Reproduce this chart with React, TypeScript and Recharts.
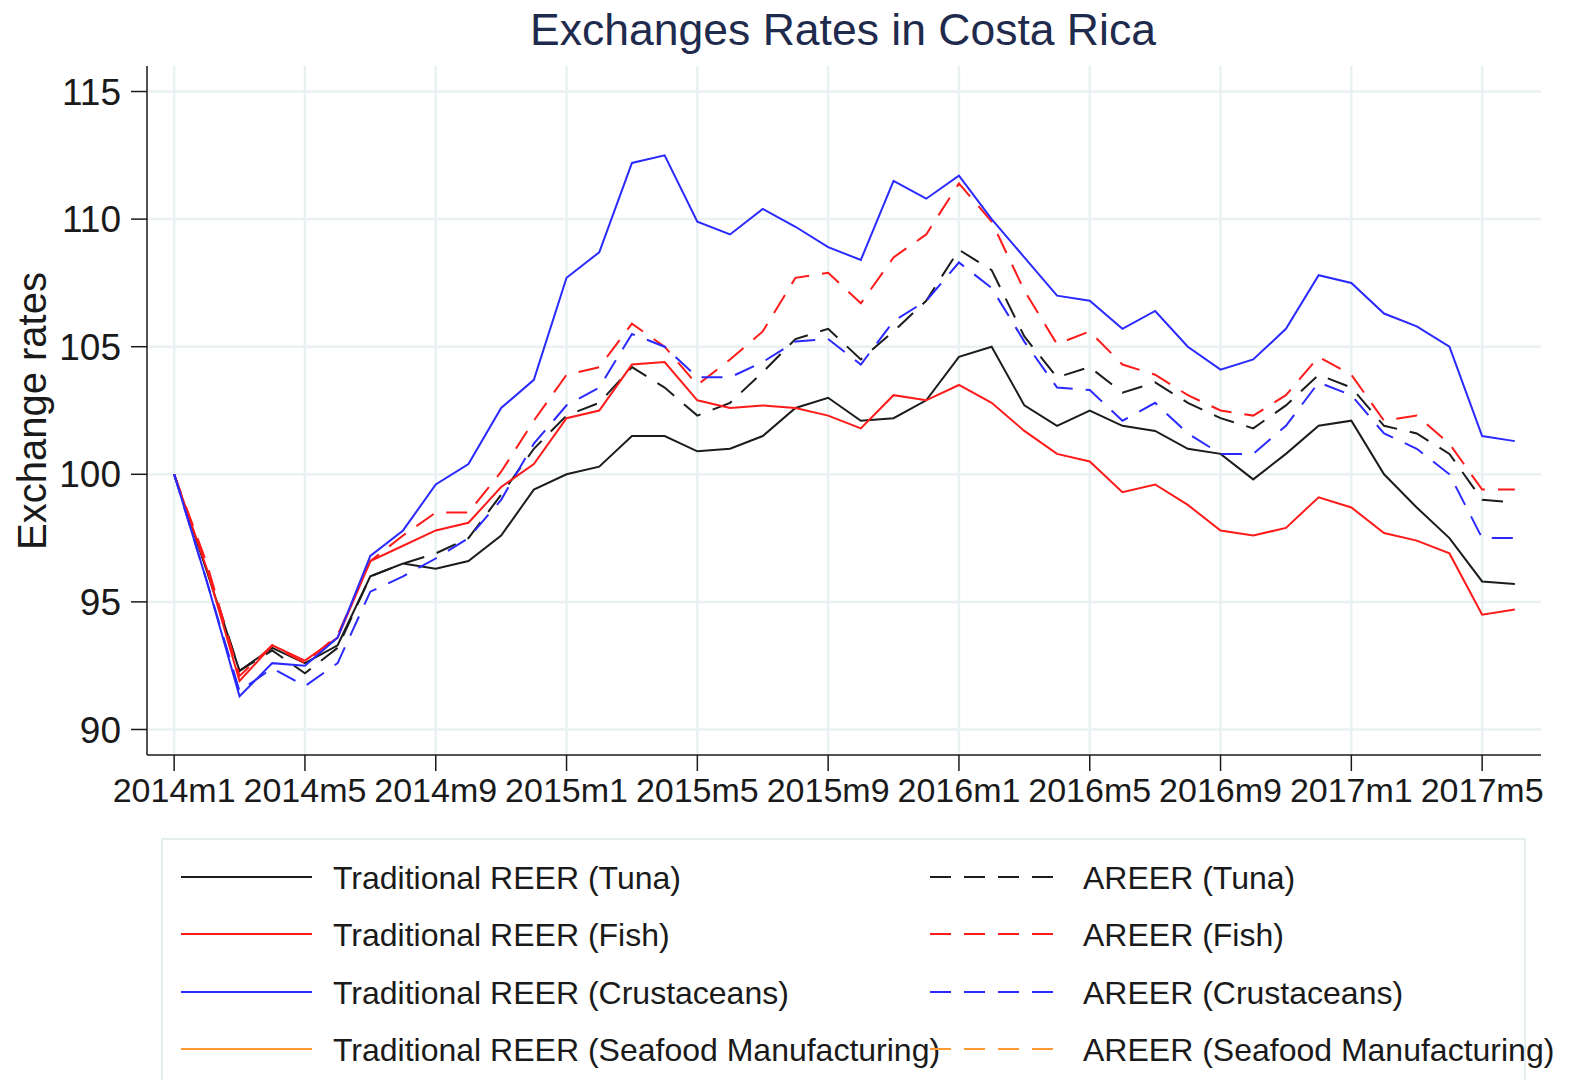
import React from 'react';
import { LineChart, Line, XAxis, YAxis, CartesianGrid, Legend } from 'recharts';

const monthLabels = [
  '2014m1', '2014m2', '2014m3', '2014m4', '2014m5', '2014m6', '2014m7', '2014m8', '2014m9', '2014m10', '2014m11', '2014m12',
  '2015m1', '2015m2', '2015m3', '2015m4', '2015m5', '2015m6', '2015m7', '2015m8', '2015m9', '2015m10', '2015m11', '2015m12',
  '2016m1', '2016m2', '2016m3', '2016m4', '2016m5', '2016m6', '2016m7', '2016m8', '2016m9', '2016m10', '2016m11', '2016m12',
  '2017m1', '2017m2', '2017m3', '2017m4', '2017m5', '2017m6',
];

const xTicks = [0, 4, 8, 12, 16, 20, 24, 28, 32, 36, 40];
const yTicks = [90, 95, 100, 105, 110, 115];

const tradTuna = [
  100, 96.2, 92.3, 93.2, 92.6, 93.3, 96.0, 96.5, 96.3, 96.6, 97.6, 99.4,
  100.0, 100.3, 101.5, 101.5, 100.9, 101.0, 101.5, 102.6, 103.0, 102.1, 102.2, 102.9,
  104.6, 105.0, 102.7, 101.9, 102.5, 101.9, 101.7, 101.0, 100.8, 99.8, 100.8, 101.9,
  102.1, 100.0, 98.7, 97.5, 95.8, 95.7,
];
const tradFish = [
  100, 96.3, 91.9, 93.3, 92.7, 93.6, 96.6, 97.2, 97.8, 98.1, 99.5, 100.4,
  102.2, 102.5, 104.3, 104.4, 102.9, 102.6, 102.7, 102.6, 102.3, 101.8, 103.1, 102.9,
  103.5, 102.8, 101.7, 100.8, 100.5, 99.3, 99.6, 98.8, 97.8, 97.6, 97.9, 99.1,
  98.7, 97.7, 97.4, 96.9, 94.5, 94.7,
];
const tradCrus = [
  100, 95.8, 91.3, 92.6, 92.5, 93.6, 96.8, 97.8, 99.6, 100.4, 102.6, 103.7,
  107.7, 108.7, 112.2, 112.5, 109.9, 109.4, 110.4, 109.7, 108.9, 108.4, 111.5, 110.8,
  111.7, 110.0, 108.5, 107.0, 106.8, 105.7, 106.4, 105.0, 104.1, 104.5, 105.7, 107.8,
  107.5, 106.3, 105.8, 105.0, 101.5, 101.3,
];
const tradSeafood: (number | null)[] = [];
const areerTuna = [
  100, 96.3, 92.3, 93.1, 92.2, 93.2, 96.0, 96.5, 96.9, 97.5, 99.2, 101.0,
  102.3, 102.8, 104.2, 103.4, 102.3, 102.8, 104.0, 105.3, 105.7, 104.5, 105.6, 106.8,
  108.8, 108.0, 105.4, 103.8, 104.2, 103.2, 103.6, 102.8, 102.2, 101.8, 102.7, 103.9,
  103.4, 101.9, 101.6, 100.8, 99.0, 98.9,
];
const areerFish = [
  100, 96.5, 92.1, 93.3, 92.6, 93.7, 96.6, 97.6, 98.5, 98.5, 100.1, 102.1,
  103.9, 104.2, 105.9, 105.0, 103.5, 104.5, 105.6, 107.7, 107.9, 106.7, 108.5, 109.4,
  111.4, 109.9, 107.2, 105.1, 105.6, 104.3, 103.9, 103.1, 102.5, 102.3, 103.1, 104.6,
  103.9, 102.1, 102.3, 101.2, 99.4, 99.4,
];
const areerCrus = [
  100, 95.8, 91.5, 92.4, 91.7, 92.6, 95.4, 96.0, 96.7, 97.5, 99.0, 101.2,
  102.7, 103.4, 105.5, 105.0, 103.8, 103.8, 104.4, 105.2, 105.3, 104.3, 106.0, 106.8,
  108.3, 107.3, 105.2, 103.4, 103.3, 102.1, 102.8, 101.6, 100.8, 100.8, 101.9, 103.6,
  103.1, 101.6, 101.0, 100.0, 97.5, 97.5,
];
const areerSeafood: (number | null)[] = [];

type Series = { key: string; name: string; color: string; dashed: boolean; values: (number | null)[]; col: number; row: number };

const series: Series[] = [
  { key: 'tradTuna', name: 'Traditional REER (Tuna)', color: '#1c1c1c', dashed: false, values: tradTuna, col: 0, row: 0 },
  { key: 'areerTuna', name: 'AREER (Tuna)', color: '#1c1c1c', dashed: true, values: areerTuna, col: 1, row: 0 },
  { key: 'tradFish', name: 'Traditional REER (Fish)', color: '#ff1a1a', dashed: false, values: tradFish, col: 0, row: 1 },
  { key: 'areerFish', name: 'AREER (Fish)', color: '#ff1a1a', dashed: true, values: areerFish, col: 1, row: 1 },
  { key: 'tradCrus', name: 'Traditional REER (Crustaceans)', color: '#2a2aff', dashed: false, values: tradCrus, col: 0, row: 2 },
  { key: 'areerCrus', name: 'AREER (Crustaceans)', color: '#2a2aff', dashed: true, values: areerCrus, col: 1, row: 2 },
  { key: 'tradSeafood', name: 'Traditional REER (Seafood Manufacturing)', color: '#ff9933', dashed: false, values: tradSeafood, col: 0, row: 3 },
  { key: 'areerSeafood', name: 'AREER (Seafood Manufacturing)', color: '#ff9933', dashed: true, values: areerSeafood, col: 1, row: 3 },
];

const data = monthLabels.map((m, i) => {
  const row: Record<string, number | string | null> = { idx: i, month: m };
  series.forEach((s) => {
    row[s.key] = s.values[i] ?? null;
  });
  return row;
});

const FONT = '"Liberation Sans", Arial, Helvetica, sans-serif';
const DASH = '21 13';

const rowTops = [37, 94, 152, 209];
const colSample = [{ x1: 18, x2: 149, tx: 170 }, { x1: 767, x2: 898, tx: 920 }];

const renderLegend = () => (
  <div style={{ position: 'relative', width: '100%', height: '100%' }}>
    <svg width={1365} height={250} style={{ position: 'absolute', left: 0, top: 0, overflow: 'visible' }}>
      {series.map((s) => {
        const c = colSample[s.col];
        const y = rowTops[s.row];
        return (
          <g key={s.key}>
            <line x1={c.x1} x2={c.x2} y1={y} y2={y} stroke={s.color} strokeWidth={2} strokeDasharray={s.dashed ? DASH : undefined} />
            <text x={c.tx} y={y} dy="0.36em" fontFamily={FONT} fontSize={32} fill="#1a1a1a">{s.name}</text>
          </g>
        );
      })}
    </svg>
  </div>
);

export default function App() {
  return (
    <div style={{ position: 'absolute', left: 0, top: 0, width: 1579, height: 1080, background: '#fff', overflow: 'hidden' }}>
      <LineChart width={1579} height={1080} data={data} margin={{ top: 66, right: 38, left: 0, bottom: 265 }}>
        <CartesianGrid stroke="#eaf1f2" strokeWidth={2.5} horizontalValues={yTicks} verticalValues={xTicks} />
        <XAxis
          dataKey="idx"
          type="number"
          domain={[-0.83, 41.8]}
          ticks={xTicks}
          tickFormatter={(v: number) => monthLabels[v]}
          tickSize={16}
          tickMargin={7}
          height={60}
          stroke="#1a1a1a"
          strokeWidth={1.5}
          tick={{ fill: '#1a1a1a', fontSize: 34, fontFamily: FONT }}
          interval={0}
          allowDataOverflow
        />
        <YAxis
          type="number"
          domain={[89, 116]}
          ticks={yTicks}
          tickSize={16}
          tickMargin={10}
          width={147}
          stroke="#1a1a1a"
          strokeWidth={1.5}
          tick={{ fill: '#1a1a1a', fontSize: 37, fontFamily: FONT }}
          interval={0}
          allowDataOverflow
        />
        {series.map((s) => (
          <Line
            key={s.key}
            dataKey={s.key}
            name={s.name}
            type="linear"
            stroke={s.color}
            strokeWidth={2}
            strokeDasharray={s.dashed ? DASH : undefined}
            dot={false}
            activeDot={false}
            isAnimationActive={false}
            connectNulls={false}
          />
        ))}
        <Legend
          layout="horizontal"
          verticalAlign="middle"
          align="center"
          content={renderLegend}
          wrapperStyle={{ position: 'absolute', left: 161, top: 838, width: 1365, height: 260, border: '2px solid #e4eeee', boxSizing: 'border-box' }}
        />
        <text x={843} y={45} textAnchor="middle" fontFamily={FONT} fontSize={44.5} fill="#1f2b4d">Exchanges Rates in Costa Rica</text>
        <text x={46} y={411} transform="rotate(-90 46 411)" textAnchor="middle" fontFamily={FONT} fontSize={40} fill="#1a1a1a">Exchange rates</text>
      </LineChart>
    </div>
  );
}
